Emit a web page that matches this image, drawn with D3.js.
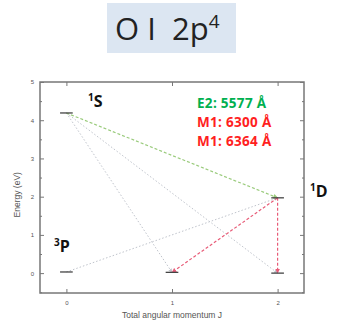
<!DOCTYPE html>
<html>
<head>
<meta charset="utf-8">
<title>O I 2p4</title>
<script src="https://cdn.jsdelivr.net/npm/d3@7"></script>
<style>
  body { margin: 0; background: #fff; }
  svg { display: block; }
  .tick text { font: 6px "Liberation Sans", sans-serif; fill: #555; }
</style>
</head>
<body>
<script>
// levels: term, J, energy (eV)
var levelNames = ["1S", "1D", "3P0", "3P1", "3P2"];
var levelJ = [0, 2, 0, 1, 2];
var levelE = [4.19, 1.97, 0.03, 0.02, 0.0];

// transitions drawn between levels (from, to, kind)
var transFrom = ["1S", "1D", "1D", "1S", "1S", "3P0"];
var transTo   = ["1D", "3P1", "3P2", "3P1", "3P2", "1D"];
var transKind = ["E2", "M1", "M1", "weak", "weak", "weak"];

var legendText = ["E2: 5577 Å", "M1: 6300 Å", "M1: 6364 Å"];
var legendKind = ["E2", "M1", "M1"];

var xTicks = [0, 1, 2];
var yTicks = [0, 1, 2, 3, 4, 5];

var w = 343, h = 321;
var svg = d3.select("body").append("svg").attr("width", w).attr("height", h);

// title box
svg.append("rect").attr("x", 107).attr("y", 3).attr("width", 129).attr("height", 50)
   .attr("fill", "#dce6f2");
var title = svg.append("text").attr("x", 115).attr("y", 40)
   .style("font", "31px 'Open Sans', sans-serif").style("white-space", "pre").attr("fill", "#222");
title.append("tspan").text("O I  2p");
title.append("tspan").attr("dy", -12).style("font-size", "19px").text("4");

// plot area
var pLeft = 40, pRight = 304, pTop = 82, pBottom = 293;
var x = d3.scaleLinear().domain([-0.25, 2.25]).range([pLeft, pRight]);
var y = d3.scaleLinear().domain([-0.52, 5]).range([pBottom, pTop]);

var frameColor = "#777";

svg.append("rect").attr("x", pLeft).attr("y", pTop)
   .attr("width", pRight - pLeft).attr("height", pBottom - pTop)
   .attr("fill", "none").attr("stroke", frameColor).attr("stroke-width", 1.5);

// axes (ticks pointing inward)
var gx = svg.append("g").attr("transform", "translate(0," + pBottom + ")")
   .call(d3.axisBottom(x).tickValues(xTicks).tickSize(-4).tickPadding(8).tickFormat(d3.format("d")));
var gxTop = svg.append("g").attr("transform", "translate(0," + pTop + ")")
   .call(d3.axisTop(x).tickValues(xTicks).tickSize(-4).tickFormat(""));
var gy = svg.append("g").attr("transform", "translate(" + pLeft + ",0)")
   .call(d3.axisLeft(y).tickValues(yTicks).tickSize(-4).tickPadding(6).tickFormat(d3.format("d")));
var gyMinor = svg.append("g").attr("transform", "translate(" + pLeft + ",0)")
   .call(d3.axisLeft(y).tickValues(d3.range(-0.5, 5, 1)).tickSize(-2).tickFormat(""));
var gyR = svg.append("g").attr("transform", "translate(" + pRight + ",0)")
   .call(d3.axisRight(y).tickValues(yTicks).tickSize(-4).tickFormat(""));
var gyRMinor = svg.append("g").attr("transform", "translate(" + pRight + ",0)")
   .call(d3.axisRight(y).tickValues(d3.range(-0.5, 5, 1)).tickSize(-2).tickFormat(""));
[gx, gxTop, gy, gyMinor, gyR, gyRMinor].forEach(function(g) {
  g.select(".domain").remove();
  g.selectAll("line").attr("stroke", frameColor);
});

// axis titles
svg.append("text").attr("x", 172).attr("y", 318).attr("text-anchor", "middle")
   .style("font", "8.5px 'Liberation Sans', sans-serif").attr("fill", "#555")
   .text("Total angular momentum J");
svg.append("text").attr("transform", "translate(20," + y(2.05) + ") rotate(-90)")
   .attr("text-anchor", "middle")
   .style("font", "8.5px 'Liberation Sans', sans-serif").attr("fill", "#555")
   .text("Energy (eV)");

// transitions
var kindColor = { E2: "#9acb7c", M1: "#e85c78", weak: "#c0c4cc" };
var kindDash = { E2: "3,2", M1: "3,2", weak: "1.5,2" };
function lvl(name) {
  var i = levelNames.indexOf(name);
  return { j: levelJ[i], e: levelE[i] };
}
var trans = transFrom.map(function(f, i) {
  return { a: lvl(f), b: lvl(transTo[i]), kind: transKind[i] };
});
// draw weak ones first
trans.sort(function(p, q) { return (p.kind === "weak" ? 0 : 1) - (q.kind === "weak" ? 0 : 1); });

var defs = svg.append("defs");
Object.keys(kindColor).forEach(function(k) {
  defs.append("marker").attr("id", "arr-" + k).attr("viewBox", "0 0 10 10")
    .attr("refX", 9).attr("refY", 5).attr("markerWidth", 4).attr("markerHeight", 4)
    .attr("orient", "auto")
    .append("path").attr("d", "M0,0L10,5L0,10z").attr("fill", kindColor[k]);
});

svg.selectAll(".trans").data(trans).enter().append("line").attr("class", "trans")
   .attr("x1", function(d) { return x(d.a.j); })
   .attr("y1", function(d) { return y(d.a.e); })
   .attr("x2", function(d) { return x(d.b.j); })
   .attr("y2", function(d) { return y(d.b.e); })
   .attr("stroke", function(d) { return kindColor[d.kind]; })
   .attr("stroke-width", function(d) { return d.kind === "weak" ? 1 : 1.2; })
   .attr("stroke-dasharray", function(d) { return kindDash[d.kind]; })
   .attr("marker-end", function(d) { return "url(#arr-" + d.kind + ")"; });

// level bars
svg.selectAll(".level").data(levelNames).enter().append("line").attr("class", "level")
   .attr("x1", function(d, i) { return x(levelJ[i] - 0.06); })
   .attr("x2", function(d, i) { return x(levelJ[i] + 0.06); })
   .attr("y1", function(d, i) { return y(levelE[i]); })
   .attr("y2", function(d, i) { return y(levelE[i]); })
   .attr("stroke", "#444").attr("stroke-width", 1.3);

// term labels
var termLabels = [
  { sup: "1", t: "S", px: 88, py: 107 },
  { sup: "1", t: "D", px: 310, py: 197 },
  { sup: "3", t: "P", px: 54, py: 252 }
];
termLabels.forEach(function(d) {
  var t = svg.append("text").attr("x", d.px).attr("y", d.py)
     .style("font", "bold 16px 'Open Sans', sans-serif").attr("fill", "#111");
  t.append("tspan").attr("dy", -6).style("font-size", "10px").text(d.sup);
  t.append("tspan").attr("dy", 6).text(d.t);
});

// legend
var legendColor = { E2: "#00b050", M1: "#ff1f1f" };
svg.selectAll(".leg").data(legendText).enter().append("text").attr("class", "leg")
   .attr("x", 197).attr("y", function(d, i) { return 108 + i * 19; })
   .style("font", "bold 13.5px 'Open Sans', sans-serif")
   .style("letter-spacing", "0.3px")
   .attr("fill", function(d, i) { return legendColor[legendKind[i]]; })
   .text(function(d) { return d; });
</script>
</body>
</html>
